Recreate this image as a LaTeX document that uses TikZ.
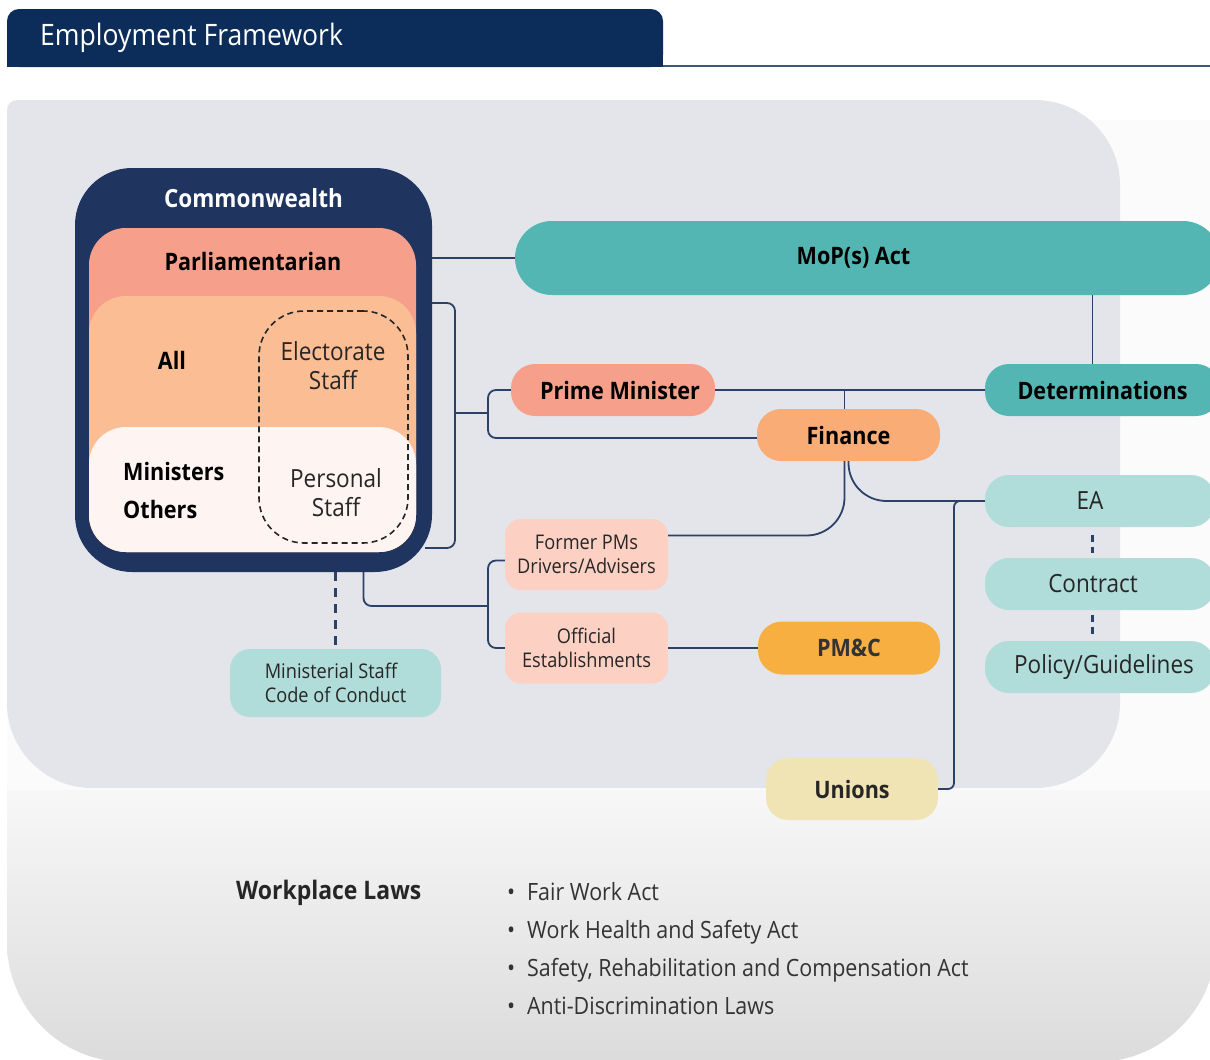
\documentclass[tikz,border=0pt]{standalone}
\usepackage{fontspec}
\setmainfont{Open Sans}[FakeStretch=0.9]

\definecolor{hdrblue}{HTML}{0C2D5A}
\definecolor{navy}{HTML}{1F3560}
\definecolor{linecol}{HTML}{2C4168}
\definecolor{panelgray}{HTML}{E4E5EA}
\definecolor{salmon}{HTML}{F6A08B}
\definecolor{peach}{HTML}{FBBD94}
\definecolor{blush}{HTML}{FEF4F1}
\definecolor{teal}{HTML}{54B6B3}
\definecolor{paleteal}{HTML}{B0DDDA}
\definecolor{finorange}{HTML}{F9AC76}
\definecolor{amber}{HTML}{F8AF41}
\definecolor{pink}{HTML}{FCD1C4}
\definecolor{paleyellow}{HTML}{F1E4B4}
\definecolor{txtgray}{HTML}{333333}

\newcommand{\hdfont}{\fontsize{29.5}{34}\selectfont}
\newcommand{\bxfont}{\fontsize{24}{29}\selectfont}
\newcommand{\rgfont}{\fontsize{25}{29}\selectfont}
\newcommand{\smfont}{\fontsize{20.2}{24}\selectfont}
\newcommand{\lawfont}{\fontsize{23.8}{38}\selectfont}

\tikzset{
  conn/.style={draw=linecol, line width=1.8pt},
  dashconn/.style={draw=linecol, line width=2.6pt, dash pattern=on 9pt off 7pt},
  dotconn/.style={draw=linecol, line width=3pt, dash pattern=on 7pt off 5pt},
  pill/.style={rounded corners=24pt, minimum height=52pt, inner sep=0pt, font=\bxfont\bfseries},
  lightpill/.style={pill, fill=paleteal, minimum width=230pt, font=\rgfont, text=black!85},
  card/.style={rounded corners=16pt, minimum width=163pt, minimum height=71pt, inner sep=0pt,
    align=center, font=\smfont, fill=pink, text=black!85},
  layer/.style={rounded corners=37pt, minimum width=327pt, inner sep=0pt},
}

\begin{document}
\begin{tikzpicture}[x=1pt,y=-1pt]
\useasboundingbox (0,0) rectangle (1210,1060);
\clip (0,0) rectangle (1210,1060);

% background
\fill[white] (0,0) rectangle (1210,1060);
\fill[black!1.5] (7,120) -- (1216,120) -- (1216,942) arc[start angle=0,end angle=90,radius=120]
  -- (127,1062) arc[start angle=90,end angle=180,radius=120] -- cycle;
\begin{scope}
  \clip (7,120) -- (1216,120) -- (1216,942) arc[start angle=0,end angle=90,radius=120]
    -- (127,1062) arc[start angle=90,end angle=180,radius=120] -- cycle;
  \shade[top color=black!3, bottom color=black!14] (0,790) rectangle (1216,1062);
\end{scope}
\fill[panelgray, rounded corners=85] (7,100) rectangle (1120,788);
\fill[panelgray, rounded corners=10] (7,100) rectangle (200,300);

% header
\fill[hdrblue, rounded corners=12] (7,9) rectangle (663,67);
\fill[hdrblue] (7,40) rectangle (663,67);
\draw[hdrblue!80!white, line width=1.2pt] (663,66) -- (1210,66);
\node[anchor=west, text=white, font=\hdfont, inner sep=0pt] (title) at (40,38) {Employment Framework};

% commonwealth block
\node[fill=navy, rounded corners=57pt, minimum width=357pt, minimum height=404pt, inner sep=0pt] (cw) at (253.5,370) {};
\node[layer, fill=salmon, minimum height=324pt] (parl) at (252.5,390) {};
\node[layer, fill=peach, minimum height=256pt] (allb) at (252.5,424) {};
\node[layer, fill=blush, minimum height=125pt] (minb) at (252.5,489.5) {};
\node[draw=black!85, line width=1.6pt, dash pattern=on 6pt off 4pt, rounded corners=45pt,
  minimum width=149pt, minimum height=232pt, inner sep=0pt] (stf) at (333.5,427) {};
\node[text=white, font=\fontsize{25}{29}\selectfont\bfseries] (cwt) at (253.5,198) {Commonwealth};
\node[font=\bxfont\bfseries] (parlt) at (253,261) {Parliamentarian};
\node[font=\bxfont\bfseries] (allt) at (172,360) {All};
\node[font=\bxfont\bfseries, align=left, anchor=west, inner sep=0pt]
  (mint) at (123,490) {Ministers\\[9pt]Others};
\node[font=\rgfont, align=center, text=black!85] (elt) at (333,366) {Electorate\\Staff};
\node[font=\rgfont, align=center, text=black!85] (pert) at (336,493) {Personal\\Staff};

% boxes
\node[pill, fill=teal, minimum width=705pt, minimum height=74pt, rounded corners=37pt] (mop) at (867.5,258) {MoP(s) Act\hspace*{28pt}};
\node[pill, fill=salmon, minimum width=204pt] (pm) at (613,390) {\hspace*{14pt}Prime Minister};
\node[pill, fill=teal, minimum width=235pt] (det) at (1102.5,390) {Determinations};
\node[pill, fill=finorange, minimum width=183pt] (fin) at (848.5,435) {Finance};
\node[lightpill] (ea) at (1100,501) {EA\hspace*{20pt}};
\node[lightpill] (con) at (1100,584) {Contract\hspace*{14pt}};
\node[lightpill] (pol) at (1100,667) {\hspace*{8pt}Policy/Guidelines};
\node[card] (fpm) at (586.5,554.5) {Former PMs\\Drivers/Advisers};
\node[card] (off) at (586.5,648) {Official\\Establishments};
\node[pill, fill=amber, minimum width=182pt, minimum height=53pt, text=txtgray] (pmc) at (849,648) {PM\&C};
\node[card, fill=paleteal, minimum width=211pt, minimum height=68pt, rounded corners=20pt, align=left] (code) at (335.5,683) {Ministerial Staff\\Code of Conduct};
\node[pill, fill=paleyellow, minimum width=172pt, minimum height=62pt, rounded corners=22pt, text=black!85] (un) at (852,789) {Unions};

% junctions
\coordinate (jcw) at (455,413);
\coordinate (jpf) at (488,413);
\coordinate (jfo) at (488,606);
\coordinate (jun) at (954,501);

% connectors
\draw[conn] (cw.east |- mop) -- (mop.west);
\draw[conn, rounded corners=8] ([yshift=67pt]cw.east) -| (jcw) |- ([xshift=-7pt,yshift=-178pt]cw.east);
\draw[conn] (jcw) -- (jpf);
\draw[conn, rounded corners=8] (pm.west) -| (jpf) |- ([yshift=-3pt]fin.west);
\draw[conn] (pm.east) -- (det.west);
\draw[conn] ([xshift=-10pt]det.north |- mop.south) -- ([xshift=-10pt]det.north);
\draw[conn] ([xshift=-4pt]fin.north) -- ([xshift=-4pt]fin.north |- pm);
\draw[conn, rounded corners=38] ([xshift=-4pt]fin.south) |- ([yshift=19pt]fpm.east);
\draw[conn, rounded corners=38] (fin.south) |- (ea.west);
\draw[conn, rounded corners=6] (un.east) -| (jun) -- (ea.west);
\draw[conn] (off.east) -- (pmc.west);
\draw[conn, rounded corners=8] ([xshift=110pt]cw.south) |- (jfo);
\draw[conn, rounded corners=8] ([yshift=-6pt]fpm.west) -| (jfo) |- (off.west);
\draw[dashconn] (cw.south -| code) -- (code.north);
\draw[dotconn, shorten <=8pt, shorten >=5pt] ([xshift=-8pt]ea.south) -- ([xshift=-8pt]con.north);
\draw[dotconn, shorten <=5pt, shorten >=2pt] ([xshift=-8pt]con.south) -- ([xshift=-8pt]pol.north);

% workplace laws
\node[anchor=west, font=\fontsize{25.5}{30}\selectfont\bfseries, text=black!85, inner sep=0pt] (wpl) at (236,893) {Workplace Laws};
\node[anchor=north west, align=left, font=\lawfont, text=txtgray, inner sep=0pt] (laws) at (507,882)
  {\textbullet\enspace Fair Work Act\\
   \textbullet\enspace Work Health and Safety Act\\
   \textbullet\enspace Safety, Rehabilitation and Compensation Act\\
   \textbullet\enspace Anti-Discrimination Laws};
\end{tikzpicture}
\end{document}
